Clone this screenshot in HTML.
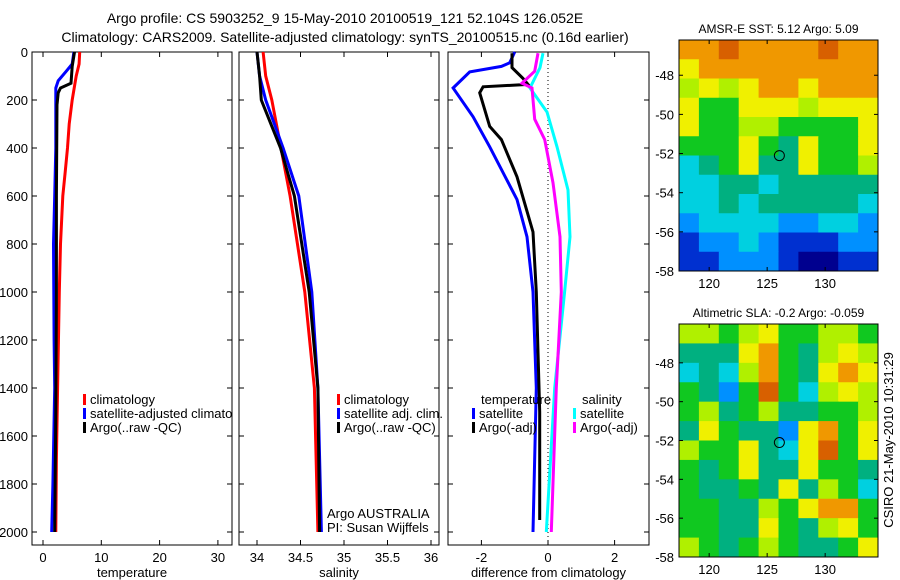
<!DOCTYPE html>
<html><head><meta charset="utf-8"><style>
body{margin:0;background:#fff;}
svg{display:block;font-family:"Liberation Sans",sans-serif;}
</style></head><body>
<svg id="c" width="900" height="580" viewBox="0 0 900 580">
<defs><clipPath id="clipT"><rect x="32" y="52" width="200" height="493"/></clipPath></defs>
<text x="345" y="23" font-size="14" text-anchor="middle">Argo profile: CS 5903252_9 15-May-2010 20100519_121 52.104S 126.052E</text>
<text x="345" y="42" font-size="14" text-anchor="middle">Climatology: CARS2009. Satellite-adjusted climatology: synTS_20100515.nc (0.16d earlier)</text>
<g id="g"></g>
<text transform="translate(893,440) rotate(-90)" font-size="13" text-anchor="middle">CSIRO 21-May-2010 10:31:29</text>
</svg>
<script>
const depthTicks=[0,200,400,600,800,1000,1200,1400,1600,1800,2000];
const tempTicks=[0,10,20,30];
const salTicks=[34,34.5,35,35.5,36];
const diffTicks=[-2,0,2];
const tempClimD=[0,50,100,200,300,400,500,600,800,1000,1400,1700,2000];
const tempClimV=[6.3,6.2,5.7,5.0,4.5,4.2,3.8,3.4,3.0,2.8,2.5,2.3,2.2];
const tempSatD=[0,50,80,120,150,400,600,800,1200,1400,1800,2000];
const tempSatV=[5.3,5.0,4.0,2.6,2.2,2.2,2.0,1.8,1.9,2.0,1.7,1.5];
const tempArgoD=[0,60,130,150,170,220,600,1000,1500,2000];
const tempArgoV=[5.4,5.0,4.8,3.0,2.6,2.4,2.3,2.3,2.2,2.0];
const salClimD=[0,100,200,600,1000,1400,2000];
const salClimV=[34.07,34.1,34.17,34.38,34.55,34.66,34.7];
const salSatD=[0,100,200,400,600,1000,1400,2000];
const salSatV=[34.0,34.03,34.1,34.3,34.48,34.63,34.7,34.74];
const salArgoD=[0,100,200,400,600,1000,1400,2000];
const salArgoV=[34.0,34.03,34.05,34.27,34.43,34.6,34.7,34.72];
const dTsatD=[0,45,60,83,150,270,395,615,770,1000,1400,2000];
const dTsatV=[-1.0,-1.15,-1.4,-2.35,-2.85,-2.25,-1.75,-0.93,-0.63,-0.45,-0.35,-0.45];
const dTargoD=[5,65,110,135,145,170,310,365,520,750,1000,1500,1950];
const dTargoV=[-1.08,-1.08,-0.75,-0.6,-1.95,-2.05,-1.75,-1.4,-0.93,-0.45,-0.35,-0.25,-0.25];
const dSargoD=[5,80,130,150,280,365,545,770,1000,1400,2000];
const dSargoV=[-0.3,-0.4,-0.78,-0.48,-0.4,-0.1,0.15,0.36,0.4,0.25,0.1];
const dSsatD=[5,65,150,250,395,575,770,1000,1400,2000];
const dSsatV=[-0.15,-0.24,-0.54,-0.03,0.27,0.6,0.66,0.5,0.2,-0.05];
const sstGrid=[
[8,8,9,8,8,8,8,9,8,8],[7,8,8,8,8,8,8,8,8,8],[6,7,6,7,8,8,7,8,8,8],[7,5,5,7,7,7,6,7,7,7],
[7,5,5,6,6,5,5,5,5,7],[5,5,5,7,5,4,7,5,5,7],[3,4,5,7,4,4,7,5,5,6],[3,3,4,4,3,4,4,4,4,4],
[3,3,4,3,4,4,4,4,4,3],[2,3,3,3,3,2,2,3,3,2],[1,2,2,3,2,1,1,1,2,2],[1,1,2,2,2,1,0,0,1,1]];
const slaGrid=[
[6,6,5,6,7,5,5,6,6,5],[4,4,4,7,8,5,4,6,7,6],[3,4,3,6,8,5,4,7,8,7],[5,4,2,5,9,5,3,6,7,6],
[5,6,4,5,6,4,4,5,5,6],[4,7,5,4,4,2,7,8,5,7],[6,5,5,7,4,3,7,9,5,7],[5,4,5,7,4,4,7,5,5,4],
[5,4,4,5,4,7,4,6,5,3],[5,5,4,4,6,5,7,8,8,5],[5,5,4,4,7,5,4,6,7,5],[6,5,4,5,6,5,4,4,5,7]];
const latTicks=[-48,-50,-52,-54,-56,-58];
const lonTicks=[120,125,130];

const NS='http://www.w3.org/2000/svg';
const G=document.getElementById('g');
function mk(t,a,p){const e=document.createElementNS(NS,t);for(const k in a)e.setAttribute(k,a[k]);(p||G).appendChild(e);return e;}
const yD=d=>52+d*0.24;
const BOT=545;
function panel(x0,x1,name,ticks,xf,label,showY){
  const r=mk('rect',{x:x0,y:52,width:x1-x0,height:BOT-52,fill:'none',stroke:'#000','stroke-width':1});
  
  depthTicks.forEach(d=>{const y=yD(d);
    mk('line',{x1:x0,x2:x0+5,y1:y,y2:y,stroke:'#000'});mk('line',{x1:x1-5,x2:x1,y1:y,y2:y,stroke:'#000'});
    if(showY){const t=mk('text',{x:x0-4,y:y+5,'font-size':13,'text-anchor':'end'});t.textContent=d;
      }});
  ticks.forEach(v=>{const x=xf(v);
    mk('line',{x1:x,x2:x,y1:52,y2:57,stroke:'#000'});mk('line',{x1:x,x2:x,y1:BOT-5,y2:BOT,stroke:'#000'});
    const t=mk('text',{x:x,y:BOT+17,'font-size':13,'text-anchor':'middle'});t.textContent=v;
    });
  const t=mk('text',{x:(x0+x1)/2,y:BOT+32,'font-size':13,'text-anchor':'middle'});t.textContent=label;
  
}
function line(D,V,xf,col,name){
  const pts=D.map((d,i)=>xf(V[i]).toFixed(1)+','+yD(d).toFixed(1)).join(' ');
  const p=mk('polyline',{points:pts,fill:'none',stroke:col,'stroke-width':3});
  
}
function legend(x,y,items,name,parent){
  items.forEach((it,i)=>{mk('rect',{x:x,y:y+i*14-10,width:3,height:11,fill:it[1]},parent);
    const t=mk('text',{x:x+7,y:y+i*14,'font-size':13},parent);t.textContent=it[0];
    });
}
const xT=v=>43+v*5.83, xS=v=>257+(v-34)*87, xDf=v=>548+v*33.3;
panel(32,232,'temperature-panel',tempTicks,xT,'temperature',true);
panel(239,439,'salinity-panel',salTicks,xS,'salinity',false);
panel(448,649,'difference-panel',diffTicks,xDf,'difference from climatology',false);
mk('line',{x1:548,x2:548,y1:52,y2:BOT,stroke:'#000','stroke-dasharray':'1,3'});
line(tempClimD,tempClimV,xT,'#f00','temp-climatology-line');
line(tempSatD,tempSatV,xT,'#00f','temp-satellite-line');
line(tempArgoD,tempArgoV,xT,'#000','temp-argo-line');
line(salClimD,salClimV,xS,'#f00','sal-climatology-line');
line(salSatD,salSatV,xS,'#00f','sal-satellite-line');
line(salArgoD,salArgoV,xS,'#000','sal-argo-line');
line(dTsatD,dTsatV,xDf,'#00f','dT-satellite-line');
line(dTargoD,dTargoV,xDf,'#000','dT-argo-line');
line(dSsatD,dSsatV,xDf,'#0ff','dS-satellite-line');
line(dSargoD,dSargoV,xDf,'#f0f','dS-argo-line');
const lgT=mk('g',{'clip-path':'url(#clipT)'});
legend(83,404,[['climatology','#f00'],['satellite-adjusted climatology','#00f'],['Argo(..raw -QC)','#000']],'temp-legend',lgT);
legend(337,404,[['climatology','#f00'],['satellite adj. clim.','#00f'],['Argo(..raw -QC)','#000']],'sal-legend');
let t=mk('text',{x:327,y:518,'font-size':13});t.textContent='Argo AUSTRALIA';

t=mk('text',{x:327,y:532,'font-size':13});t.textContent='PI: Susan Wijffels';

t=mk('text',{x:481,y:404,'font-size':13});t.textContent='temperature';

legend(472,418,[['satellite','#00f'],['Argo(-adj)','#000']],'dT-legend');
t=mk('text',{x:582,y:404,'font-size':13});t.textContent='salinity';

legend(573,418,[['satellite','#0ff'],['Argo(-adj)','#f0f']],'dS-legend');

const cmap=['#00008f','#0030d0','#0090ff','#00d0e0','#00b080','#10c820','#b0f000','#f0f000','#f09800','#d86000'];
function map(y0,y1,latTop,grid,name,title){
  const x0=679,x1=878,rows=grid.length,cols=grid[0].length;
  const cw=(x1-x0)/cols,ch=(y1-y0)/rows;
  grid.forEach((row,r)=>row.forEach((v,c)=>{
    const e=mk('rect',{x:x0+c*cw,y:y0+r*ch,width:cw+0.5,height:ch+0.5,fill:cmap[v]});
    }));
  const f=mk('rect',{x:x0,y:y0,width:x1-x0,height:y1-y0,fill:'none',stroke:'#000'});
  
  const latY=l=>y1-(l+58)*(y1-y0)/(latTop+58);
  const lonX=l=>x0+(l-117.4)*11.6;
  latTicks.forEach(l=>{const y=latY(l);
    mk('line',{x1:x0,x2:x0+4,y1:y,y2:y,stroke:'#000'});mk('line',{x1:x1-4,x2:x1,y1:y,y2:y,stroke:'#000'});
    const tt=mk('text',{x:x0-5,y:y+5,'font-size':13,'text-anchor':'end'});tt.textContent=l;
    });
  lonTicks.forEach(l=>{const x=lonX(l);
    mk('line',{x1:x,x2:x,y1:y0,y2:y0+4,stroke:'#000'});mk('line',{x1:x,x2:x,y1:y1-4,y2:y1,stroke:'#000'});
    const tt=mk('text',{x:x,y:y1+17,'font-size':13,'text-anchor':'middle'});tt.textContent=l;
    });
  const tt=mk('text',{x:(x0+x1)/2,y:y0-7,'font-size':12,'text-anchor':'middle'});tt.textContent=title;
  
  const m=mk('circle',{cx:lonX(126.052),cy:latY(-52.104),r:5,fill:'none',stroke:'#000'});
  
}
map(40,271,-46.2,sstGrid,'sst-map','AMSR-E SST: 5.12 Argo: 5.09');
map(324,557,-46.0,slaGrid,'sla-map','Altimetric SLA: -0.2 Argo: -0.059');
</script>
</body></html>
